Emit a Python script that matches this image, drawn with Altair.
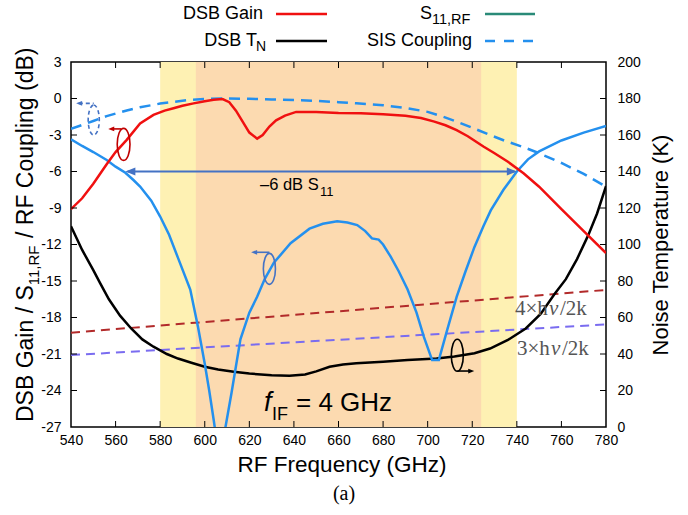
import altair as alt
import pandas as pd

SANS = "Liberation Sans"
SERIF = "Liberation Serif"

# ---------------- data ----------------
gain_f = [540, 545, 550, 556, 560, 565, 571, 577, 582, 586, 590, 595, 600, 604, 608, 611, 614, 617, 620, 623.5,
          626, 629, 632, 636, 641, 650, 660, 670, 680, 690, 697, 703, 708, 713, 718, 725, 730, 736, 743, 750,
          760, 770, 780]
gain_db = [-9.1, -8.2, -7.0, -5.4, -4.4, -3.4, -2.05, -1.35, -1.0, -0.8, -0.6, -0.4, -0.22, -0.1, -0.05, -0.3, -1.0, -1.9, -2.8, -3.3,
           -3.0, -2.3, -1.8, -1.4, -1.1, -1.1, -1.2, -1.22, -1.3, -1.42, -1.6, -1.9, -2.2, -2.6, -3.1, -3.95, -4.5, -5.2, -6.15, -7.25,
           -9.1, -10.9, -12.7]

s11_f = [540, 545, 550, 556, 560, 564.4, 568, 571, 576, 580, 584, 588, 593.5, 597, 600, 602, 604, 606.5, 609.3, 612,
         616, 620, 623.5, 627, 631, 638.5, 647, 653, 659.4, 664, 668.4, 672, 675, 678, 680, 683.4, 687, 691, 695, 698.3,
         702, 705, 708.8, 713, 717, 721, 725, 728.3, 734, 740, 745, 750, 760, 770, 780]
s11_db = [-3.35, -3.9, -4.4, -5.05, -5.6, -6.1, -6.7, -7.24, -8.4, -9.7, -11.2, -13.1, -15.7, -18.8, -21.8, -24.0, -26.4, -29.6, -27.0, -24.2,
          -19.8, -17.6, -16.3, -14.8, -13.5, -11.9, -10.7, -10.3, -10.1, -10.2, -10.4, -10.9, -11.5, -11.6, -12.0, -13.0, -14.2, -15.7, -17.6, -19.6,
          -21.5, -21.5, -19.0, -16.3, -14.2, -12.2, -10.5, -9.2, -7.5, -6.0, -5.0, -4.35, -3.45, -2.8, -2.26]

sis_f = [540, 550, 556, 565, 571, 580, 593, 600, 608, 620, 630, 640, 650, 660, 668, 680, 691, 700, 707, 713,
         720, 728, 735, 743, 750, 760, 770, 780]
sis_db = [-2.5, -1.85, -1.45, -0.98, -0.72, -0.42, -0.12, -0.03, 0.0, -0.02, -0.08, -0.13, -0.2, -0.3, -0.4, -0.55, -0.8, -1.1, -1.5, -1.9,
          -2.4, -3.0, -3.5, -4.0, -4.5, -5.3, -6.2, -7.25]

tn_f = [540, 545, 550, 553, 557, 562, 567, 572, 577, 583, 588, 594, 600, 606, 613, 620, 630, 638, 645, 650,
        656, 662, 668, 680, 691, 704, 712, 721, 728, 736, 744, 750.7, 757, 762, 767, 772, 776, 780]
tn_k = [110, 97, 86, 79, 70, 61, 54, 48, 44, 40, 37.5, 35.2, 33, 31.5, 30.3, 29.3, 28.3, 28.1, 28.8, 30.5,
        33, 34.2, 34.9, 35.8, 36.7, 37.6, 38.6, 40.4, 43, 47.7, 54, 62, 73, 81, 92, 105, 117, 132]

ref_f = [540, 780]
ref4_k = [51.7, 75.1]
ref3_k = [39.4, 56.2]

band_outer = [580, 740]
band_inner = [596, 724]

x_ticks = list(range(540, 781, 20))
db_ticks = list(range(-27, 4, 3))
k_ticks = list(range(0, 201, 20))

# annotation anchors (GHz, dB)
arrow6_f = [564.4, 740]
arrow6_db = -6
ell_f = [550.2, 563.6, 629.0, 713.3]
ell_db = [-1.77, -3.77, -14.0, -21.1]

# ---------------- layout / style ----------------
W, H = 535, 365
PL, PT = 71, 62
RED = "#F01010"
BLUE = "#2490EE"
ANN = "#4472C4"
TEAL = "#2A8A78"
DARKRED = "#B22A2A"
PURPLE = "#7A6CF0"
YEL = "#FEF1B3"
ORG = "#FCDAB0"

xs = alt.Scale(domain=[540, 780], nice=False, zero=False)
ys_db = alt.Scale(domain=[-27, 3], nice=False, zero=False)
ys_k = alt.Scale(domain=[0, 200], nice=False, zero=False)

XAX = alt.Axis(values=x_ticks, ticks=False, tickSize=0, domain=False, grid=False, labelFontSize=14,
               labelFont=SANS, labelColor="black", labelPadding=6, labelFlush=False, labelOverlap=False, title=None)
YAX_L = alt.Axis(orient="left", values=db_ticks, labelExpr="'' + datum.value", ticks=False, tickSize=0,
                 domain=False, grid=False, labelFontSize=14, labelFont=SANS, labelColor="black",
                 labelPadding=10, labelOverlap=False, title=None)
YAX_R = alt.Axis(orient="right", values=k_ticks, ticks=False, tickSize=0, domain=False, grid=False,
                 labelFontSize=14, labelFont=SANS, labelColor="black", labelPadding=11, labelOverlap=False,
                 title=None)


def X(field):
    return alt.X(field, scale=xs, axis=XAX)


def YDB(field):
    return alt.Y(field, scale=ys_db, axis=YAX_L)


def YK(field):
    return alt.Y(field, scale=ys_k, axis=YAX_R)


def one():
    return pd.DataFrame({"t": [""]})


def text_layer(s, x, y, size, align="left", baseline="alphabetic", angle=0, font=SANS, style="normal", color="black"):
    kw = dict(align=align, baseline=baseline, fontSize=size, font=font, fontStyle=style, color=color)
    if angle:
        kw["angle"] = angle
    return alt.Chart(pd.DataFrame({"t": [s]})).mark_text(**kw).encode(
        x=alt.value(x), y=alt.value(y), text="t:N")


def seg(x1, x2, y, color, width, dash=None):
    kw = dict(color=color, strokeWidth=width)
    if dash:
        kw["strokeDash"] = dash
    return alt.Chart(one()).mark_rule(**kw).encode(x=alt.value(x1), x2=alt.value(x2), y=alt.value(y))


def ellipse_path(a):
    k = 0.5523 * a
    return (f"M0,-1C{k:.3f},-1,{a:.3f},-0.552,{a:.3f},0C{a:.3f},0.552,{k:.3f},1,0,1"
            f"C{-k:.3f},1,{-a:.3f},0.552,{-a:.3f},0C{-a:.3f},-0.552,{-k:.3f},-1,0,-1Z")


LEFT_HEAD = "M0,0L1,-0.4L1,0.4Z"
RIGHT_HEAD = "M0,0L-1,-0.4L-1,0.4Z"


def pt(f, v, shape, size, color, filled, dash=None, width=1.6):
    kw = dict(shape=shape, size=size, color=color, filled=filled, opacity=1, strokeWidth=width)
    if dash:
        kw["strokeDash"] = dash
    return alt.Chart(pd.DataFrame({"f": [f], "v": [v]})).mark_point(**kw).encode(
        x=X("f:Q"), y=YDB("v:Q"))


def shaft(f1, f2, v, color, width=1.6, dash=None):
    kw = dict(color=color, strokeWidth=width)
    if dash:
        kw["strokeDash"] = dash
    return alt.Chart(pd.DataFrame({"f": [f1], "f2": [f2], "v": [v]})).mark_rule(**kw).encode(
        x=X("f:Q"), x2="f2:Q", y=YDB("v:Q"))


# ---------------- bands ----------------
outer = alt.Chart(pd.DataFrame({"a": [band_outer[0]], "b": [band_outer[1]]})).mark_rect(color=YEL).encode(
    x=X("a:Q"), x2="b:Q", y=alt.value(0), y2=alt.value(H))
inner = alt.Chart(pd.DataFrame({"a": [band_inner[0]], "b": [band_inner[1]]})).mark_rect(color=ORG).encode(
    x=X("a:Q"), x2="b:Q", y=alt.value(0), y2=alt.value(H))

# ---------------- right (K) group ----------------
ref4 = alt.Chart(pd.DataFrame({"f": ref_f, "k": ref4_k})).mark_line(color=DARKRED, strokeWidth=2, strokeDash=[9, 6]).encode(
    x=X("f:Q"), y=YK("k:Q"))
ref3 = alt.Chart(pd.DataFrame({"f": ref_f, "k": ref3_k})).mark_line(color=PURPLE, strokeWidth=2, strokeDash=[9, 6]).encode(
    x=X("f:Q"), y=YK("k:Q"))
tn = alt.Chart(pd.DataFrame({"f": tn_f, "k": tn_k})).mark_line(color="black", strokeWidth=2.5, clip=True).encode(
    x=X("f:Q"), y=YK("k:Q"), order="f:Q")
rticks = alt.Chart(pd.DataFrame({"k": k_ticks[1:-1]})).mark_rule(color="black", strokeWidth=1).encode(
    y=YK("k:Q"), x=alt.value(W - 6), x2=alt.value(W))
right_group = alt.layer(ref4, ref3, tn, rticks)

# ---------------- left (dB) group ----------------
s11 = alt.Chart(pd.DataFrame({"f": s11_f, "v": s11_db})).mark_line(color=BLUE, strokeWidth=2.5, clip=True).encode(
    x=X("f:Q"), y=YDB("v:Q"), order="f:Q")
sis = alt.Chart(pd.DataFrame({"f": sis_f, "v": sis_db})).mark_line(color=BLUE, strokeWidth=2.5, strokeDash=[11, 7], clip=True).encode(
    x=X("f:Q"), y=YDB("v:Q"), order="f:Q")
gain = alt.Chart(pd.DataFrame({"f": gain_f, "v": gain_db})).mark_line(color=RED, strokeWidth=2.5, clip=True).encode(
    x=X("f:Q"), y=YDB("v:Q"), order="f:Q")
lticks = alt.Chart(pd.DataFrame({"v": db_ticks[1:-1]})).mark_rule(color="black", strokeWidth=1).encode(
    y=YDB("v:Q"), x=alt.value(0), x2=alt.value(6))

ann = [
    shaft(arrow6_f[0] + 1, arrow6_f[1] - 1, arrow6_db, ANN, 2),
    pt(arrow6_f[0], arrow6_db, LEFT_HEAD, 400, ANN, True, width=0.5),
    pt(arrow6_f[1], arrow6_db, RIGHT_HEAD, 400, ANN, True, width=0.5),
    # SIS coupling indicator (dashed)
    pt(ell_f[0], ell_db[0], ellipse_path(0.37), 900, ANN, False, dash=[4, 3]),
    shaft(543.5, ell_f[0], -0.4, ANN, 1.6, dash=[4, 3]),
    pt(542.3, -0.4, LEFT_HEAD, 144, ANN, True, width=0.5),
    # gain indicator
    pt(ell_f[1], ell_db[1], ellipse_path(0.4), 1024, "#C00000", False),
    shaft(558.0, 562.5, -2.5, "#C00000", 1.6),
    pt(556.7, -2.5, LEFT_HEAD, 144, "#C00000", True, width=0.5),
    # S11 indicator
    pt(ell_f[2], ell_db[2], ellipse_path(0.39), 961, ANN, False),
    shaft(622.3, 629.0, -12.64, ANN, 1.6),
    pt(620.8, -12.64, LEFT_HEAD, 144, ANN, True, width=0.5),
    # TN indicator
    pt(ell_f[3], ell_db[3], ellipse_path(0.375), 1024, "black", False),
    shaft(713.3, 719.5, -22.4, "black", 1.6),
    pt(720.9, -22.4, RIGHT_HEAD, 144, "black", True, width=0.5),
]
left_group = alt.layer(s11, sis, gain, lticks, *ann)

# ---------------- inward frame ticks ----------------
top_ticks = alt.Chart(pd.DataFrame({"f": x_ticks[1:-1]})).mark_rule(color="black", strokeWidth=1).encode(
    x=X("f:Q"), y=alt.value(0), y2=alt.value(6))
bot_ticks = alt.Chart(pd.DataFrame({"f": x_ticks[1:-1]})).mark_rule(color="black", strokeWidth=1).encode(
    x=X("f:Q"), y=alt.value(H - 6), y2=alt.value(H))

GRAY = "#555555"
# ---------------- texts (pixel positions relative to plot origin) ----------------
texts = [
    # legend
    text_layer("DSB Gain", 192, -48, 18, align="right", baseline="middle"),
    seg(205, 256, -48, RED, 2.5),
    text_layer("DSB T", 186, -21, 18, align="right", baseline="middle"),
    text_layer("N", 185, -15, 14, baseline="middle"),
    seg(205, 256, -21, "black", 2.5),
    text_layer("S", 349, -48, 18, baseline="middle"),
    text_layer("11,RF", 361, -42, 14.5, baseline="middle"),
    seg(414, 464, -48, TEAL, 2.5),
    text_layer("SIS Coupling", 401, -21, 18, align="right", baseline="middle"),
    seg(414, 464, -21, BLUE, 2.5, dash=[10, 9]),
    # axis titles
    text_layer("RF Frequency (GHz)", 271, 410, 22.5, align="center"),
    text_layer("Noise Temperature (K)", 597, 183, 22, align="center", angle=270),
    text_layer("DSB Gain / S", -38, 360, 23, angle=270),
    text_layer("11,RF", -32, 223.2, 15, angle=270),
    text_layer("/ RF Coupling (dB)", -38, 176, 23, angle=270),
    # in-plot annotations
    text_layer("\u20136 dB S", 189, 128, 16.5),
    text_layer("11", 249, 134, 13),
    text_layer("f", 193, 349, 27, style="italic"),
    text_layer("IF", 201, 358, 18),
    text_layer("= 4 GHz", 225, 349, 26),
    text_layer("4\u00d7h", 444, 253, 21, font=SERIF, color=GRAY),
    text_layer("\u03bd", 478, 253, 21, font=SERIF, style="italic", color=GRAY),
    text_layer("/2k", 489, 253, 21, font=SERIF, color=GRAY),
    text_layer("3\u00d7h", 446, 293, 21, font=SERIF, color=GRAY),
    text_layer("\u03bd", 480, 293, 21, font=SERIF, style="italic", color=GRAY),
    text_layer("/2k", 491, 293, 21, font=SERIF, color=GRAY),
    # caption
    text_layer("(a)", 273, 438, 20, align="center", font=SERIF),
]

chart = alt.layer(outer, inner, right_group, left_group, top_ticks, bot_ticks, *texts).resolve_scale(
    y="independent"
).properties(
    width=W, height=H,
    padding={"left": PL, "top": PT, "right": 688 - PL - W, "bottom": 515 - PT - H},
    autosize=alt.AutoSizeParams(type="none"),
).configure_view(stroke="black", strokeWidth=1.5)

chart.save("out.html", embed_options={"renderer": "svg", "actions": False})
